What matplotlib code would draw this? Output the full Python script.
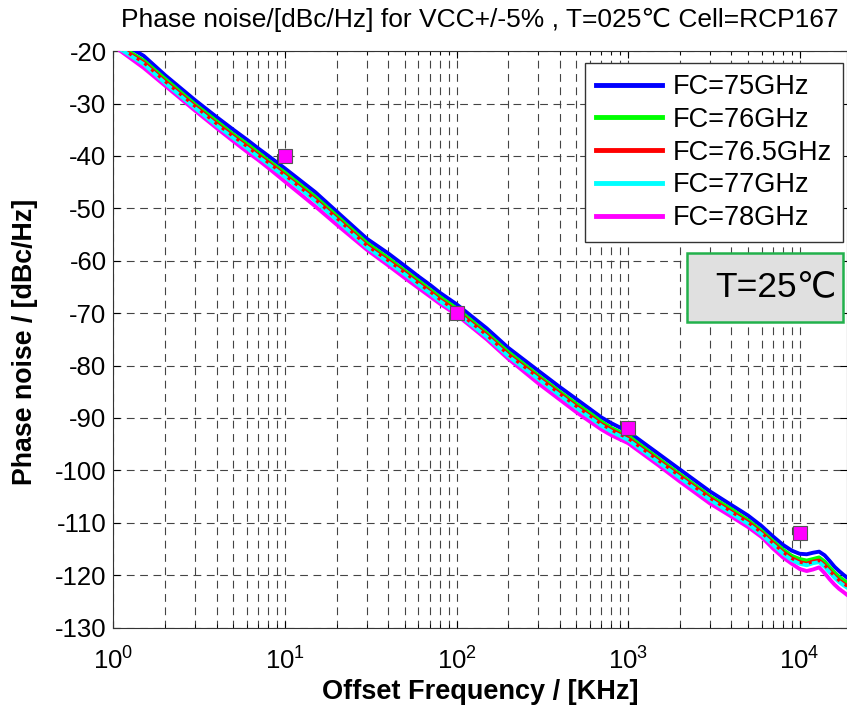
import matplotlib
matplotlib.use("Agg")
import matplotlib.pyplot as plt
from matplotlib.patches import Rectangle

# offset frequency grid [KHz]
freq = [1, 1.5, 2, 3, 4, 5, 6, 7, 8, 10, 15, 20, 30, 40, 50, 60, 70, 80,
        100, 150, 200, 300, 400, 500, 600, 700, 800, 1000, 1500, 2000, 3000,
        4000, 5000, 6000, 7000, 8000, 9000, 10000, 11000, 12000, 13000,
        14000, 15000, 16000, 17000, 18000, 19000]

# phase noise per carrier [dBc/Hz]
pn_75 = [-17.5, -20.9, -24.6, -29.4, -32.6, -35.0, -36.9, -38.6, -40.0, -42.4,
         -46.9, -50.6, -55.8, -58.6, -61.0, -63.0, -64.6, -66.1, -68.3, -72.9,
         -76.6, -81.0, -84.1, -86.4, -88.3, -89.9, -91.0, -92.6, -96.8, -99.8,
         -104.0, -106.6, -108.6, -110.6, -112.6, -114.2, -115.3, -115.9, -116.0,
         -115.7, -115.5, -116.2, -117.3, -118.4, -119.2, -119.9, -120.5]
pn_76 = [-18.3, -21.8, -25.3, -30.2, -33.4, -35.9, -37.7, -39.4, -40.9, -43.2,
         -47.8, -51.4, -56.6, -59.5, -61.9, -63.8, -65.5, -66.9, -69.1, -73.8,
         -77.4, -81.9, -85.0, -87.3, -89.1, -90.7, -91.9, -93.4, -97.7, -100.7,
         -104.9, -107.4, -109.5, -111.5, -113.5, -115.1, -116.3, -116.9, -117.2,
         -116.9, -116.6, -117.4, -118.5, -119.5, -120.3, -120.9, -121.5]
pn_765 = [-18.6, -22.2, -25.8, -30.6, -33.9, -36.3, -38.2, -39.9, -41.3, -43.7,
          -48.3, -51.9, -57.1, -60.0, -62.3, -64.3, -65.9, -67.4, -69.6, -74.2,
          -77.9, -82.3, -85.4, -87.8, -89.6, -91.2, -92.3, -93.9, -98.1, -101.1,
          -105.3, -107.9, -109.9, -111.9, -113.9, -115.6, -116.8, -117.5, -117.8,
          -117.4, -117.2, -118.1, -119.2, -120.2, -121.0, -121.6, -122.1]
pn_77 = [-18.8, -22.5, -26.1, -30.9, -34.2, -36.6, -38.5, -40.2, -41.6, -44.0,
         -48.6, -52.2, -57.4, -60.3, -62.6, -64.6, -66.2, -67.7, -69.9, -74.5,
         -78.2, -82.6, -85.7, -88.1, -89.9, -91.5, -92.6, -94.2, -98.4, -101.4,
         -105.6, -108.2, -110.2, -112.2, -114.2, -115.9, -117.1, -117.8, -118.1,
         -117.7, -117.5, -118.4, -119.5, -120.5, -121.3, -121.9, -122.4]
pn_78 = [-19.0, -23.2, -26.6, -31.4, -34.7, -37.2, -39.2, -40.8, -42.3, -44.9,
         -49.6, -53.1, -57.9, -60.9, -63.3, -65.2, -66.8, -68.2, -70.3, -75.0,
         -78.7, -83.4, -86.5, -88.9, -90.7, -92.2, -93.3, -94.8, -99.0, -102.1,
         -106.3, -108.8, -110.8, -112.7, -114.9, -116.6, -117.8, -118.8, -119.2,
         -118.9, -118.5, -119.6, -120.8, -121.8, -122.6, -123.2, -123.8]

labels = ["FC=75GHz", "FC=76GHz", "FC=76.5GHz", "FC=77GHz", "FC=78GHz"]
colors = ["#0000ff", "#00ff00", "#ff0000", "#00ffff", "#ff00ff"]
zorders = [3, 4, 5, 6, 3.5]

# spec limit points
spec_freq = [10, 100, 1000, 10000]
spec_val = [-40, -70, -92, -112]

plt.rcParams['font.family'] = ['Liberation Sans', 'DejaVu Sans']
plt.rcParams['axes.unicode_minus'] = False
plt.rcParams['mathtext.fontset'] = 'custom'
plt.rcParams['mathtext.rm'] = 'Liberation Sans'
plt.rcParams['mathtext.it'] = 'Liberation Sans:italic'
plt.rcParams['mathtext.bf'] = 'Liberation Sans:bold'

fig = plt.figure(figsize=(8.47, 7.10), dpi=100)
ax = fig.add_axes([0.134, 0.116, 0.866, 0.812])

series = [pn_75, pn_76, pn_765, pn_77, pn_78]
for vals, lab, col, z in zip(series, labels, colors, zorders):
    ax.plot(freq, vals, color=col, lw=2.8, label=lab, zorder=z)
# red trace shows through as dots on top of the others
ax.plot(freq, pn_765, color='#ff0000', lw=2.2, ls=(0, (1, 2)), zorder=7)

ax.plot(spec_freq, spec_val, ls='none', marker='s', ms=10,
        mfc='#ff00ff', mec='#555555', mew=0.8, zorder=8)

ax.set_xscale('log')
ax.set_xlim(1, 1.89e4)
ax.set_ylim(-130, -20)
ax.set_yticks(range(-130, -19, 10))
ax.tick_params(which='both', direction='in', top=True, right=True)
ax.tick_params(which='major', length=5, labelsize=18.5, pad=5)
ax.tick_params(which='minor', length=3)
ax.tick_params(axis='x', which='major', labelsize=18.5, pad=14)

ax.grid(True, which='major', ls=(0, (7, 5)), color='#444444', lw=0.8)
ax.grid(True, which='minor', axis='x', ls=(0, (7, 5)), color='#444444', lw=0.8)
for s in ax.spines.values():
    s.set_color('#333333')

leg = ax.legend(loc='upper right', bbox_to_anchor=(0.9946, 0.979),
                borderaxespad=0, fontsize=19.5, handlelength=2.45,
                handletextpad=0.4, labelspacing=0.25, fancybox=False,
                framealpha=1, edgecolor='#333333', borderpad=0.4)
for line in leg.get_lines():
    line.set_linewidth(3.5)
leg.set_zorder(10)

ax.add_patch(Rectangle((0.782, 0.530), 0.2126, 0.120, transform=ax.transAxes,
                       facecolor='#e0e0e0', edgecolor='#22b14c', lw=1.8,
                       zorder=10))
ax.text(0.903, 0.591, "T=25\u2103", transform=ax.transAxes, fontsize=25.5,
        ha='center', va='center', zorder=11)

fig.text(0.567, 0.972, "Phase noise/[dBc/Hz] for VCC+/-5% , T=025\u2103 Cell=RCP167",
         ha='center', va='center', fontsize=19)
fig.text(0.567, 0.025, "Offset Frequency / [KHz]", ha='center', va='center',
         fontsize=19.5, fontweight='bold')
fig.text(0.030, 0.518, "Phase noise / [dBc/Hz]", ha='center', va='center',
         rotation=90, fontsize=19.3, fontweight='bold')

fig.savefig("out.png", dpi=100)
